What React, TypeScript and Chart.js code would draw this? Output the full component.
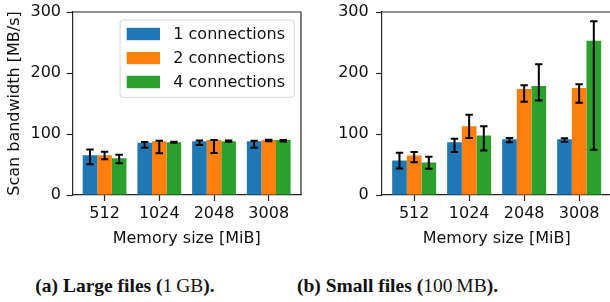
import React, { useEffect, useRef } from "react";
import { Chart, registerables } from "chart.js";

Chart.register(...registerables);

const CATEGORIES = ["512", "1024", "2048", "3008"];
const SERIES_LABELS = ["1 connections", "2 connections", "4 connections"];
const COLORS = ["#1f77b4", "#ff7f0e", "#2ca02c"];
const Y_TICKS = [0, 100, 200, 300];

// (a) Large files
const LARGE_1 = [65.3, 85.5, 88.3, 88.3];
const LARGE_1_LO = [50.5, 77.3, 82.0, 77.3];
const LARGE_1_HI = [74.6, 87.0, 89.4, 88.8];
const LARGE_2 = [65.3, 88.3, 90.0, 90.0];
const LARGE_2_LO = [58.7, 68.6, 69.0, 88.3];
const LARGE_2_HI = [70.7, 88.8, 90.0, 90.5];
const LARGE_4 = [60.3, 86.6, 88.3, 90.0];
const LARGE_4_LO = [52.1, 85.5, 87.2, 87.8];
const LARGE_4_HI = [65.8, 87.5, 89.4, 90.3];

// (b) Small files
const SMALL_1 = [56.6, 86.3, 91.3, 91.3];
const SMALL_1_LO = [43.4, 70.3, 86.3, 87.5];
const SMALL_1_HI = [69.3, 92.4, 93.4, 92.9];
const SMALL_2 = [64.9, 112.7, 173.8, 175.4];
const SMALL_2_LO = [53.8, 93.4, 152.8, 151.2];
const SMALL_2_HI = [70.3, 131.4, 179.9, 181.5];
const SMALL_4 = [53.3, 97.4, 178.7, 253.0];
const SMALL_4_LO = [42.9, 73.1, 155.1, 74.3];
const SMALL_4_HI = [62.7, 112.7, 214.5, 284.8];

const FONT = "'DejaVu Sans', sans-serif";
const AXIS = "#262626";
const TEXT = "#111";

type PanelProps = {
  values: number[][];
  lows: number[][];
  highs: number[][];
  left: number;
  width: number;
  yAxisWidth: number;
  padRight: number;
  tickPad: number;
  showYTitle: boolean;
  showLegend: boolean;
  drawRightSpine: boolean;
};

function Panel(p: PanelProps) {
  const ref = useRef<HTMLCanvasElement | null>(null);
  useEffect(() => {
    if (!ref.current) return;
    const errorPlugin = {
      id: "errorBarsLocal",
      afterDatasetsDraw(chart: any) {
        const ctx = chart.ctx;
        const ys = chart.scales.y;
        ctx.save();
        ctx.strokeStyle = "#000";
        ctx.lineWidth = 2;
        p.values.forEach((_, i) => {
          const meta = chart.getDatasetMeta(i);
          meta.data.forEach((bar: any, j: number) => {
            const x = bar.x;
            const y1 = ys.getPixelForValue(p.lows[i][j]);
            const y2 = ys.getPixelForValue(p.highs[i][j]);
            ctx.beginPath();
            ctx.moveTo(x, y1);
            ctx.lineTo(x, y2);
            ctx.moveTo(x - 3.7, y1);
            ctx.lineTo(x + 3.7, y1);
            ctx.moveTo(x - 3.7, y2);
            ctx.lineTo(x + 3.7, y2);
            ctx.stroke();
          });
        });
        ctx.restore();
      },
      afterDraw(chart: any) {
        const ctx = chart.ctx;
        const a = chart.chartArea;
        ctx.save();
        ctx.strokeStyle = AXIS;
        ctx.lineWidth = 1.2;
        ctx.beginPath();
        ctx.moveTo(a.left, a.top);
        ctx.lineTo(a.right, a.top);
        if (p.drawRightSpine) ctx.lineTo(a.right, a.bottom);
        ctx.stroke();
        if (p.showLegend) {
          const bx = 120, by = 20, bw = 174.3, bh = 77.3, r = 3;
          ctx.beginPath();
          ctx.moveTo(bx + r, by);
          ctx.lineTo(bx + bw - r, by);
          ctx.quadraticCurveTo(bx + bw, by, bx + bw, by + r);
          ctx.lineTo(bx + bw, by + bh - r);
          ctx.quadraticCurveTo(bx + bw, by + bh, bx + bw - r, by + bh);
          ctx.lineTo(bx + r, by + bh);
          ctx.quadraticCurveTo(bx, by + bh, bx, by + bh - r);
          ctx.lineTo(bx, by + r);
          ctx.quadraticCurveTo(bx, by, bx + r, by);
          ctx.closePath();
          ctx.fillStyle = "rgba(255,255,255,0.8)";
          ctx.fill();
          ctx.strokeStyle = "#d6d6d6";
          ctx.lineWidth = 1;
          ctx.stroke();
          ctx.font = `16px ${FONT}`;
          ctx.textBaseline = "middle";
          ctx.textAlign = "left";
          SERIES_LABELS.forEach((lab, i) => {
            const cy = 34 + i * 24;
            ctx.fillStyle = COLORS[i];
            ctx.fillRect(126.7, cy - 6.2, 33.3, 12.4);
            ctx.fillStyle = TEXT;
            ctx.fillText(lab, 173.3, cy + 0.5);
          });
        }
        ctx.restore();
      },
    };

    const chart = new Chart(ref.current, {
      type: "bar",
      data: {
        datasets: p.values.map((vals, i) => ({
          label: SERIES_LABELS[i],
          data: vals.map((v, j) => ({ x: j, y: v })),
          backgroundColor: COLORS[i],
          borderWidth: 0,
          categoryPercentage: 0.8,
          barPercentage: 1.0,
        })),
      },
      options: {
        responsive: false,
        animation: false,
        devicePixelRatio: 1,
        layout: { padding: { left: 0, right: p.padRight, top: 12, bottom: 0 } },
        plugins: { legend: { display: false }, tooltip: { enabled: false } },
        scales: {
          x: {
            type: "linear",
            min: -0.59,
            max: 3.59,
            offset: false,
            afterBuildTicks: (s: any) => {
              s.ticks = CATEGORIES.map((_, i) => ({ value: i }));
            },
            afterFit: (s: any) => {
              s.height = 55;
              s.paddingLeft = 0;
              s.paddingRight = 0;
            },
            ticks: {
              autoSkip: false,
              maxRotation: 0,
              font: { family: FONT, size: 16 },
              color: TEXT,
              padding: 3,
              callback: (v: any) => CATEGORIES[v] ?? "",
            },
            grid: {
              display: true,
              offset: false,
              drawOnChartArea: false,
              drawTicks: true,
              tickLength: 6,
              tickColor: AXIS,
              tickWidth: 1.2,
            },
            border: { display: true, color: AXIS, width: 1.2 },
            title: {
              display: true,
              text: "Memory size [MiB]",
              font: { family: FONT, size: 16 },
              color: TEXT,
              padding: { top: 0, bottom: 2 },
            },
          },
          y: {
            type: "linear",
            min: 0,
            max: 300,
            afterBuildTicks: (s: any) => {
              s.ticks = Y_TICKS.map((v) => ({ value: v }));
            },
            afterFit: (s: any) => {
              s.width = p.yAxisWidth;
              s.paddingTop = 0;
              s.paddingBottom = 0;
            },
            ticks: {
              font: { family: FONT, size: 16 },
              color: TEXT,
              padding: p.tickPad,
            },
            grid: {
              display: true,
              drawOnChartArea: false,
              drawTicks: true,
              tickLength: 5.6,
              tickColor: AXIS,
              tickWidth: 1.2,
            },
            border: { display: true, color: AXIS, width: 1.2 },
            title: {
              display: p.showYTitle,
              text: "Scan bandwidth [MB/s]",
              font: { family: FONT, size: 16 },
              color: TEXT,
              padding: { top: 5, bottom: 0 },
            },
          },
        },
      },
      plugins: [errorPlugin],
    } as any);
    return () => chart.destroy();
  }, []);
  return (
    <canvas
      ref={ref}
      width={p.width}
      height={250}
      style={{ position: "absolute", left: p.left, top: 0, width: p.width, height: 250 }}
    />
  );
}

const captionStyle: React.CSSProperties = {
  position: "absolute",
  top: 276.4,
  fontFamily: "'Liberation Serif', 'Times New Roman', serif",
  fontSize: 19.5,
  lineHeight: "20px",
  textAlign: "center",
  color: "#111",
  whiteSpace: "nowrap",
};

export default function App() {
  return (
    <div
      style={{
        position: "fixed",
        left: 0,
        top: 0,
        width: 610,
        height: 302,
        overflow: "hidden",
        background: "#fff",
      }}
    >
      <Panel
        values={[LARGE_1, LARGE_2, LARGE_4]}
        lows={[LARGE_1_LO, LARGE_2_LO, LARGE_4_LO]}
        highs={[LARGE_1_HI, LARGE_2_HI, LARGE_4_HI]}
        left={0}
        width={305}
        yAxisWidth={72.3}
        padRight={4}
        tickPad={5.7}
        showYTitle={true}
        showLegend={true}
        drawRightSpine={true}
      />
      <Panel
        values={[SMALL_1, SMALL_2, SMALL_4]}
        lows={[SMALL_1_LO, SMALL_2_LO, SMALL_4_LO]}
        highs={[SMALL_1_HI, SMALL_2_HI, SMALL_4_HI]}
        left={305}
        width={310}
        yAxisWidth={76.7}
        padRight={3.4}
        tickPad={7.4}
        showYTitle={false}
        showLegend={false}
        drawRightSpine={false}
      />
      <div style={{ ...captionStyle, left: 0, width: 250 }}>
        <b>(a) Large files (</b>1{"\u2009"}GB<b>).</b>
      </div>
      <div style={{ ...captionStyle, left: 272, width: 251 }}>
        <b>(b) Small files (</b>100{"\u2009"}MB<b>).</b>
      </div>
    </div>
  );
}
